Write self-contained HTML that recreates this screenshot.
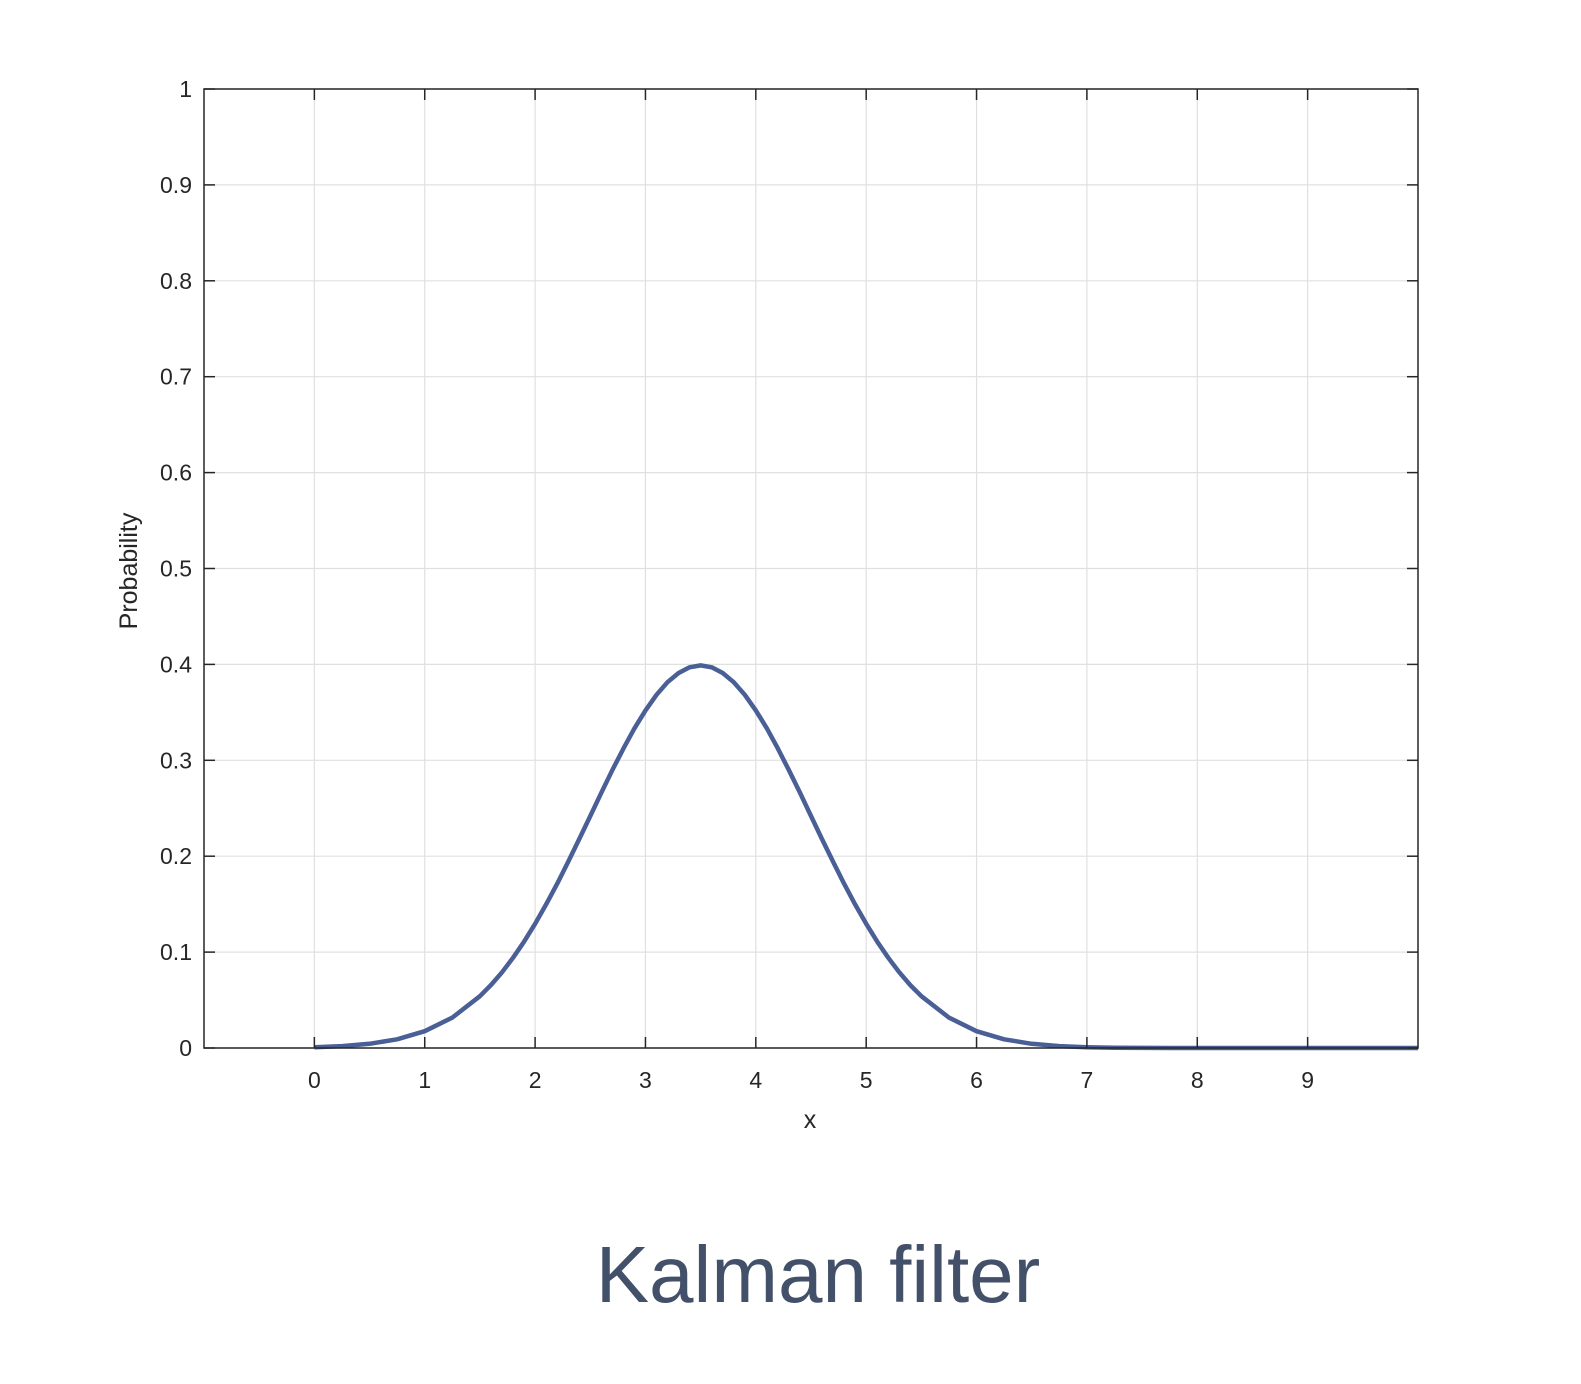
<!DOCTYPE html>
<html><head><meta charset="utf-8"><style>
body{margin:0;background:#fff;}
svg{display:block;font-family:"Liberation Sans",Arial,sans-serif;}
</style></head><body>
<svg width="1581" height="1384" xmlns="http://www.w3.org/2000/svg">
<g id="grid"></g>
<g id="curve"></g>
<rect x="204" y="89" width="1214" height="959" fill="none" stroke="#262626" stroke-width="1.5"/>
<g id="ticks"></g>
<text x="810" y="1128" font-size="25" text-anchor="middle" fill="#262626">x</text>
<text transform="translate(137,571) rotate(-90)" font-size="25" text-anchor="middle" fill="#262626">Probability</text>
<text x="818" y="1302" font-size="80" text-anchor="middle" fill="#425169">Kalman filter</text>
</svg>
<script>
const xTicks=[0,1,2,3,4,5,6,7,8,9];
const yTicks=[0,0.1,0.2,0.3,0.4,0.5,0.6,0.7,0.8,0.9,1];
const yTickLabels=["0","0.1","0.2","0.3","0.4","0.5","0.6","0.7","0.8","0.9","1"];
const xs=[0,0.25,0.5,0.75,1,1.25,1.5,1.6,1.7,1.8,1.9,2,2.1,2.2,2.3,2.4,2.5,2.6,2.7,2.8,2.9,3,3.1,3.2,3.3,3.4,3.5,3.6,3.7,3.8,3.9,4,4.1,4.2,4.3,4.4,4.5,4.6,4.7,4.8,4.9,5,5.1,5.2,5.3,5.4,5.5,5.75,6,6.25,6.5,6.75,7,7.25,7.5,7.75,8,8.5,9,9.5,10];
const probs=[0.00087,0.00203,0.00443,0.00909,0.01753,0.03174,0.05399,0.06562,0.07895,0.09405,0.11092,0.12952,0.14973,0.17137,0.19419,0.21785,0.24197,0.26609,0.28969,0.31225,0.33322,0.35207,0.36827,0.38139,0.39104,0.39695,0.39894,0.39695,0.39104,0.38139,0.36827,0.35207,0.33322,0.31225,0.28969,0.26609,0.24197,0.21785,0.19419,0.17137,0.14973,0.12952,0.11092,0.09405,0.07895,0.06562,0.05399,0.03174,0.01753,0.00909,0.00443,0.00203,0.00087,0.00035,0.00013,0.00005,0.00002,0,0,0,0];
const NS="http://www.w3.org/2000/svg";
const X0=204,X1=1418,Y0=1048,Y1=89,xmin=-1,xmax=10;
const sx=v=>X0+(v-xmin)/(xmax-xmin)*(X1-X0);
const sy=v=>Y0-v*(Y0-Y1);
function mk(t,a,p){const e=document.createElementNS(NS,t);for(const k in a)e.setAttribute(k,a[k]);p.appendChild(e);return e;}
const grid=document.getElementById('grid'),ticks=document.getElementById('ticks'),curve=document.getElementById('curve');
xTicks.forEach(v=>{const x=sx(v);
 const g=mk('line',{x1:x,x2:x,y1:Y1,y2:Y0,stroke:'#e0e0e0','stroke-width':1.2},grid);
 
 
 mk('line',{x1:x,x2:x,y1:Y0,y2:Y0-11,stroke:'#262626','stroke-width':1.5},ticks);
 mk('line',{x1:x,x2:x,y1:Y1,y2:Y1+11,stroke:'#262626','stroke-width':1.5},ticks);
 const t=mk('text',{x:x,y:1088,'font-size':23,'text-anchor':'middle',fill:'#262626'},ticks);t.textContent=v;
 
 
});
yTicks.forEach((v,i)=>{const y=sy(v);
 const g=mk('line',{x1:X0,x2:X1,y1:y,y2:y,stroke:'#e0e0e0','stroke-width':1.2},grid);
 
 
 mk('line',{x1:X0,x2:X0+11,y1:y,y2:y,stroke:'#262626','stroke-width':1.5},ticks);
 mk('line',{x1:X1,x2:X1-11,y1:y,y2:y,stroke:'#262626','stroke-width':1.5},ticks);
 const t=mk('text',{x:192,y:y+8,'font-size':23,'text-anchor':'end',fill:'#262626'},ticks);t.textContent=yTickLabels[i];
 
 
});
const pts=xs.map((v,i)=>sx(v).toFixed(1)+','+sy(probs[i]).toFixed(1)).join(' ');
const pl=mk('polyline',{points:pts,fill:'none',stroke:'#4a5f96','stroke-width':4.5,'stroke-linejoin':'round'},curve);


</script>
</body></html>
